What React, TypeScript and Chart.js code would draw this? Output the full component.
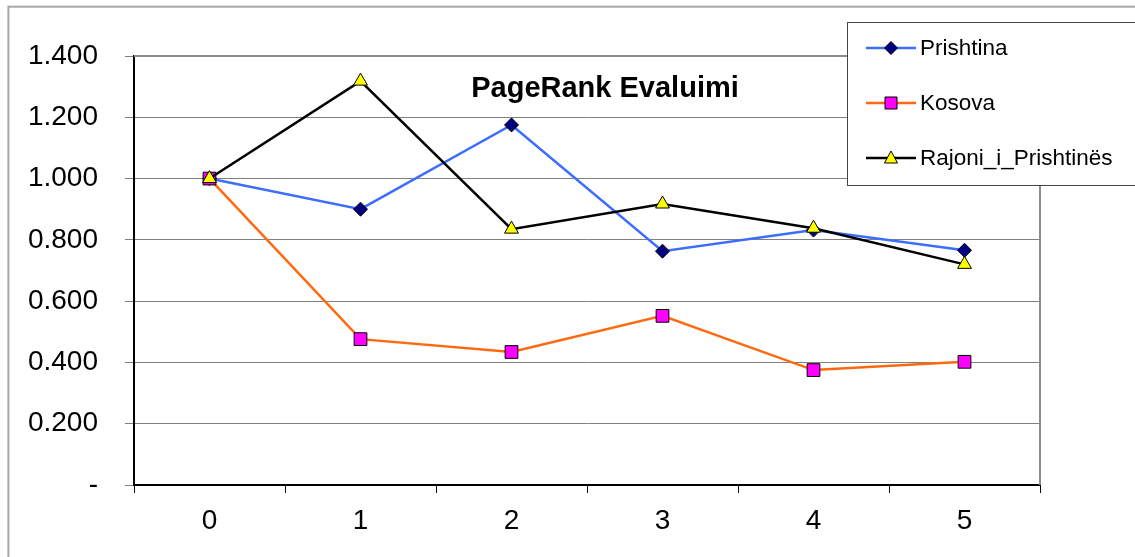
import React, { useEffect, useRef } from "react";
import { Chart, registerables } from "chart.js";

Chart.register(...registerables);

const categories = ["0", "1", "2", "3", "4", "5"];
const seriesNames = ["Prishtina", "Kosova", "Rajoni_i_Prishtinës"];
const prishtina = [1.0, 0.9, 1.175, 0.763, 0.832, 0.766];
const kosova = [1.0, 0.476, 0.434, 0.552, 0.375, 0.402];
const rajoni = [1.0, 1.318, 0.835, 0.917, 0.838, 0.72];
const yTicks = [0, 0.2, 0.4, 0.6, 0.8, 1.0, 1.2, 1.4];
const titleText = "PageRank Evaluimi";

const FONT = "'Liberation Sans', Arial, sans-serif";

const framePlugin = {
  id: "frame",
  beforeDraw(chart: any) {
    const { ctx, width, height } = chart;
    ctx.save();
    ctx.fillStyle = "#ffffff";
    ctx.fillRect(0, 0, width, height);
    ctx.strokeStyle = "#a8a8a8";
    ctx.lineWidth = 2;
    ctx.strokeRect(8.4, 6.7, width + 20, height + 20);
    ctx.restore();
  },
  afterDraw(chart: any) {
    const { ctx, chartArea } = chart;
    ctx.save();
    // plot area top & right border
    ctx.strokeStyle = "#8c8c8c";
    ctx.lineWidth = 2;
    ctx.beginPath();
    ctx.moveTo(chartArea.left, chartArea.top);
    ctx.lineTo(chartArea.right, chartArea.top);
    ctx.lineTo(chartArea.right, chartArea.bottom);
    ctx.stroke();

    // title
    ctx.fillStyle = "#000";
    ctx.font = `bold 29px ${FONT}`;
    ctx.textAlign = "center";
    ctx.textBaseline = "alphabetic";
    ctx.fillText(titleText, 605, 97);

    // legend
    const lx = 847.5, ly = 22.5, lw = 300, lh = 163;
    ctx.fillStyle = "#fff";
    ctx.fillRect(lx, ly, lw, lh);
    ctx.strokeStyle = "#444";
    ctx.lineWidth = 1;
    ctx.strokeRect(lx, ly, lw, lh);
    const rows = [48, 103, 158];
    chart.data.datasets.forEach((ds: any, i: number) => {
      const y = rows[i];
      ctx.strokeStyle = ds.borderColor;
      ctx.lineWidth = 2.5;
      ctx.beginPath();
      ctx.moveTo(866, y);
      ctx.lineTo(916, y);
      ctx.stroke();
      ctx.fillStyle = ds.pointBackgroundColor;
      ctx.strokeStyle = "#000";
      ctx.lineWidth = 1;
      const cx = 891;
      ctx.beginPath();
      if (ds.pointStyle === "rectRot") {
        ctx.moveTo(cx, y - 6.5);
        ctx.lineTo(cx + 6.5, y);
        ctx.lineTo(cx, y + 6.5);
        ctx.lineTo(cx - 6.5, y);
        ctx.closePath();
      } else if (ds.pointStyle === "rect") {
        ctx.rect(cx - 6, y - 6, 12, 12);
      } else {
        ctx.moveTo(cx, y - 7);
        ctx.lineTo(cx + 6.5, y + 5);
        ctx.lineTo(cx - 6.5, y + 5);
        ctx.closePath();
      }
      ctx.fill();
      ctx.stroke();
      ctx.fillStyle = "#000";
      ctx.font = `22.5px ${FONT}`;
      ctx.textAlign = "left";
      ctx.textBaseline = "middle";
      ctx.fillText(ds.label, 920, y + 1);
    });
    ctx.restore();
  },
};

export default function App() {
  const ref = useRef<HTMLCanvasElement>(null);
  useEffect(() => {
    document.body.style.margin = "0";
    const canvas = ref.current!;
    const chart = new Chart(canvas, {
      type: "line",
      data: {
        labels: categories,
        datasets: [
          {
            label: seriesNames[0],
            data: prishtina,
            borderColor: "#3d6dff",
            borderWidth: 2.5,
            pointStyle: "rectRot",
            pointRadius: 7,
            pointBackgroundColor: "#000080",
            pointBorderColor: "#000",
            pointBorderWidth: 1,
            tension: 0,
            order: 3,
          },
          {
            label: seriesNames[1],
            data: kosova,
            borderColor: "#ff6a10",
            borderWidth: 2.5,
            pointStyle: "rect",
            pointRadius: 9,
            pointBackgroundColor: "#ff00ff",
            pointBorderColor: "#000",
            pointBorderWidth: 1,
            tension: 0,
            order: 2,
          },
          {
            label: seriesNames[2],
            data: rajoni,
            borderColor: "#000",
            borderWidth: 2.5,
            pointStyle: "triangle",
            pointRadius: 8,
            pointBackgroundColor: "#ffff00",
            pointBorderColor: "#000",
            pointBorderWidth: 1,
            tension: 0,
            order: 1,
          },
        ],
      },
      options: {
        animation: false,
        responsive: false,
        devicePixelRatio: 1,
        layout: { padding: { left: 0, top: 56, right: 95, bottom: 0 } },
        plugins: {
          legend: { display: false },
          title: { display: false },
          tooltip: { enabled: false },
        },
        scales: {
          x: {
            type: "category",
            offset: true,
            grid: {
              offset: true,
              drawOnChartArea: false,
              drawTicks: true,
              tickLength: 8,
              color: "#000",
            },
            border: { color: "#000", width: 2 },
            ticks: {
              color: "#000",
              font: { family: FONT, size: 28 },
              padding: 11,
              maxRotation: 0,
            },
            afterFit(scale: any) {
              scale.height = 72;
            },
          },
          y: {
            min: 0,
            max: 1.4,
            afterBuildTicks(scale: any) {
              scale.ticks = yTicks.map((v) => ({ value: v }));
            },
            grid: {
              color: "#808080",
              lineWidth: 1,
              tickLength: 9,
              tickColor: "#808080",
            },
            border: { color: "#000", width: 2 },
            ticks: {
              color: "#000",
              font: { family: FONT, size: 28 },
              padding: 27,
              callback: (v: any) => (Number(v) === 0 ? "-" : Number(v).toFixed(3)),
            },
            afterFit(scale: any) {
              scale.width = 134;
            },
          },
        },
      },
      plugins: [framePlugin],
    });
    return () => chart.destroy();
  }, []);
  return (
    <canvas
      ref={ref}
      width={1135}
      height={557}
      style={{ display: "block", width: 1135, height: 557 }}
    />
  );
}
